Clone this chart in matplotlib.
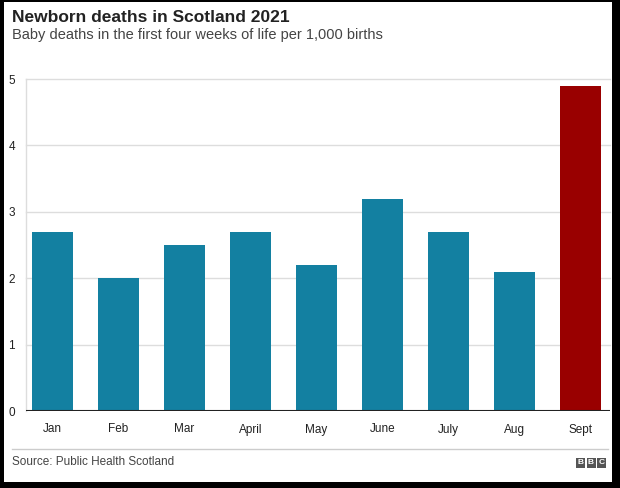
import matplotlib
matplotlib.use("Agg")
import matplotlib.pyplot as plt
from matplotlib.patches import Rectangle

months = ["Jan", "Feb", "Mar", "April", "May", "June", "July", "Aug", "Sept"]
values = [2.7, 2.0, 2.5, 2.7, 2.2, 3.2, 2.7, 2.1, 4.9]
colors = ["#1380A1"] * 8 + ["#990000"]
yticks = [0, 1, 2, 3, 4, 5]

plt.rcParams["font.family"] = ["Liberation Sans", "DejaVu Sans"]

W, H = 620, 488
fig = plt.figure(figsize=(W / 100, H / 100), dpi=100, facecolor="white")

# black frame around the picture
for (x0, y0, w, h) in [(0, 0, 4, H), (612, 0, W - 612, H), (0, 0, W, 6), (0, H - 2, W, 2)]:
    fig.add_artist(Rectangle((x0 / W, y0 / H), w / W, h / H, transform=fig.transFigure,
                             facecolor="black", edgecolor="none", zorder=10))

ax = fig.add_axes([26 / W, (H - 411) / H, (610 - 26) / W, (411 - 79) / H])
ax.set_facecolor("none")
x = list(range(len(months)))
ax.bar(x, values, width=0.62, color=colors, zorder=3)
ax.set_xlim(-0.4, 8.45)
ax.set_ylim(0, 5)
ax.set_yticks(yticks)
ax.set_yticklabels([str(t) for t in yticks])
ax.set_xticks(x)
ax.set_xticklabels(months)
for t in yticks[1:]:
    ax.axhline(t, color="#dddddd", lw=1, zorder=1, clip_on=False)
ax.axhline(0, color="#222222", lw=1.5, zorder=4)
for s in ["top", "right", "bottom"]:
    ax.spines[s].set_visible(False)
ax.spines["left"].set_color("#dddddd")
ax.spines["left"].set_linewidth(1)
ax.tick_params(axis="y", length=0, pad=8, labelsize=8.5, labelcolor="#222222")
ax.tick_params(axis="x", length=0, pad=9, labelsize=8.5, labelcolor="#222222")

fig.text(12 / W, 1 - 22 / H, "Newborn deaths in Scotland 2021", fontsize=12.5,
         fontweight="bold", color="#222222", ha="left", va="baseline")
fig.text(12 / W, 1 - 39.5 / H, "Baby deaths in the first four weeks of life per 1,000 births",
         fontsize=10.5, color="#444444", ha="left", va="baseline")

# separator line
fig.add_artist(plt.Line2D([12 / W, 608 / W], [1 - 449 / H, 1 - 449 / H],
                          transform=fig.transFigure, color="#cccccc", lw=1))
fig.text(12 / W, 1 - 465 / H, "Source: Public Health Scotland", fontsize=8.5,
         color="#444444", ha="left", va="baseline")

# BBC logo
for i, letter in enumerate("BBC"):
    x0 = 576 + i * 10.5
    fig.add_artist(Rectangle((x0 / W, 1 - 468 / H), 9 / W, 10 / H,
                             transform=fig.transFigure, facecolor="#555555",
                             edgecolor="none", zorder=2))
    fig.text((x0 + 4.5) / W, 1 - 463 / H, letter, fontsize=6, fontweight="bold",
             color="white", ha="center", va="center", zorder=3)

fig.savefig("out.png", dpi=100, facecolor="white")
